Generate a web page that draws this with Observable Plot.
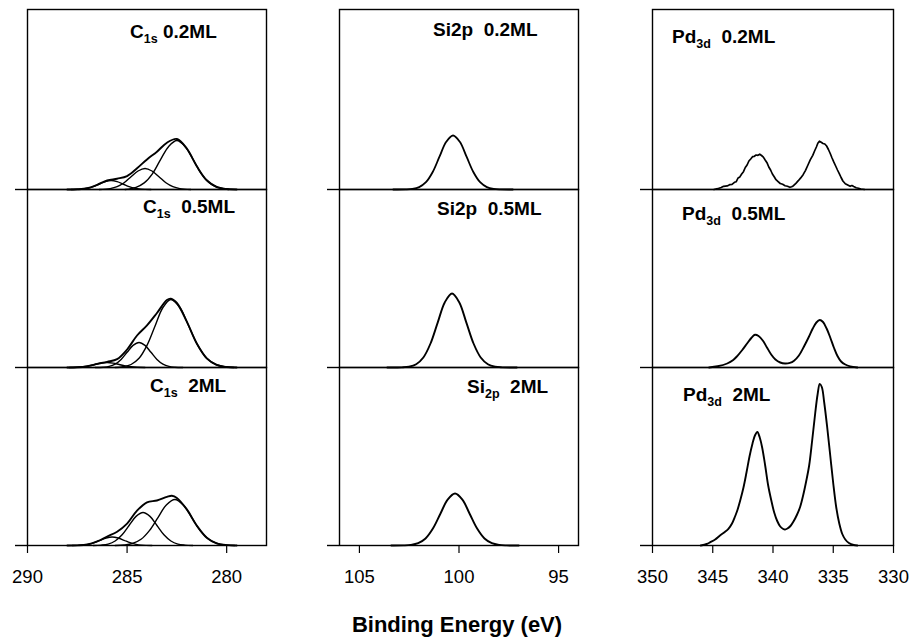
<!DOCTYPE html>
<html><head><meta charset="utf-8">
<script src="https://cdn.jsdelivr.net/npm/d3@7"></script>
<script src="https://cdn.jsdelivr.net/npm/@observablehq/plot@0.6"></script>
<style>
body{margin:0;background:#fff;font-family:"Liberation Sans",Arial,Helvetica,sans-serif}
#fig{position:relative;width:910px;height:638px;overflow:hidden;background:#fff}
.panel{position:absolute}
.lab{position:absolute;font-weight:bold;font-size:19px;line-height:19px;white-space:pre;color:#000}
.lab sub{font-size:12.5px;line-height:12px;vertical-align:baseline;position:relative;top:5px}
.title{position:absolute;left:2px;width:910px;text-align:center;font-weight:bold;font-size:22px;line-height:22px;color:#000}
</style></head><body><div id="fig"></div>
<script>
// ---------- data (binding energy eV, intensity a.u.) ----------
const rowNames = ["0.2ML", "0.5ML", "2ML"];
const c1sTicks = [290, 285, 280];
const si2pTicks = [105, 100, 95];
const pd3dTicks = [350, 345, 340, 335, 330];

// C1s 0.2 ML
const c1s02Envelope = [[288,0],[287.5,0.2],[287,1.2],[286.5,4.7],[286,9.0],[285.5,10.8],[285,13.4],[284.5,21.2],[284,30.1],[283.5,37.8],[283,46.8],[282.5,50.5],[282,40.9],[281.5,23.3],[281,9.2],[280.5,2.5],[280,0.5],[279.5,0]];
const c1s02Peak1 = [[285.1,0],[284.55,2.2],[284.14,6.6],[283.73,15.7],[283.32,29.9],[282.91,43.1],[282.5,49],[282.09,43.1],[281.68,29.9],[281.27,15.7],[280.86,6.6],[280.45,2.2],[279.9,0]];
const c1s02Peak2 = [[286.4,0],[285.85,0.9],[285.5,2.8],[285.15,6.7],[284.8,12.8],[284.45,18.5],[284.1,21],[283.75,18.5],[283.4,12.8],[283.05,6.7],[282.7,2.8],[282.35,0.9],[281.8,0]];
const c1s02Peak3 = [[287.8,0],[287.3,0.4],[287.0,1.2],[286.7,2.9],[286.4,5.5],[286.1,7.9],[285.8,9],[285.5,7.9],[285.2,5.5],[284.9,2.9],[284.6,1.2],[284.3,0.4],[283.8,0]];

// C1s 0.5 ML
const c1s05Envelope = [[288,0],[287.5,0.2],[287,1.3],[286.5,3.6],[286,5.7],[285.5,8.4],[285,18.0],[284.5,32.0],[284,42.1],[283.5,54.5],[283,67.5],[282.8,68.8],[282.5,64.5],[282,45.8],[281.5,24],[281,9.2],[280.5,2.6],[280,0.5],[279.5,0]];
const c1s05Peak1 = [[285.6,0],[285.2,0.75],[284.8,3.0],[284.4,9.2],[284.0,22.1],[283.6,41.2],[283.2,60],[282.8,68],[282.35,60],[281.9,41.2],[281.45,22.1],[281.0,9.2],[280.55,3.0],[280.1,0.75],[279.65,0]];
const c1s05Peak2 = [[286.6,0],[286.2,0.3],[285.9,1.1],[285.6,3.4],[285.3,8.1],[285.0,15.2],[284.7,22.1],[284.4,25],[284.1,22.1],[283.8,15.2],[283.5,8.1],[283.2,3.4],[282.9,1.1],[282.6,0.3],[282.2,0]];
const c1s05Peak3 = [[287.9,0],[287.5,0.2],[287.2,0.7],[286.9,1.6],[286.6,3.0],[286.3,4.4],[286.0,5],[285.7,4.4],[285.4,3.0],[285.1,1.6],[284.8,0.7],[284.5,0.2],[284.1,0]];

// C1s 2 ML
const c1s2Envelope = [[288,0],[287.5,0.15],[287,1.0],[286.5,4.1],[286,9.0],[285.5,13.8],[285,21.9],[284.5,34.9],[284,43.2],[283.5,45.0],[283,48.6],[282.75,49.8],[282.5,47.6],[282,36.1],[281.5,19.9],[281,7.8],[280.5,2.2],[280,0.4],[279.5,0]];
const c1s2Peak1 = [[285.6,0],[285.15,0.5],[284.73,2.0],[284.3,6.2],[283.88,14.9],[283.45,27.9],[283.03,40.6],[282.6,46],[282.18,40.6],[281.75,27.9],[281.33,14.9],[280.9,6.2],[280.48,2.0],[280.05,0.5],[279.6,0]];
const c1s2Peak2 = [[286.7,0],[286.3,0.37],[285.95,1.45],[285.6,4.5],[285.25,10.7],[284.9,20.0],[284.55,29.1],[284.2,33],[283.85,29.1],[283.5,20.0],[283.15,10.7],[282.8,4.5],[282.45,1.45],[282.1,0.37],[281.7,0]];
const c1s2Peak3 = [[287.75,0],[287.25,0.37],[286.95,1.15],[286.65,2.8],[286.35,5.2],[286.05,7.5],[285.75,8.5],[285.45,7.5],[285.15,5.2],[284.85,2.8],[284.55,1.15],[284.25,0.37],[283.75,0]];

// Si2p
const si2p02 = [[103.3,0],[102.68,0.1],[102.34,0.6],[102.0,2.4],[101.66,7.3],[101.32,17.5],[100.98,32.8],[100.64,47.7],[100.3,54],[99.96,47.7],[99.62,32.8],[99.28,17.5],[98.94,7.3],[98.6,2.4],[98.26,0.6],[97.92,0.1],[97.3,0]];
const si2p05 = [[103.6,0],[102.87,0.16],[102.51,0.82],[102.15,3.25],[101.79,10.0],[101.43,24.0],[101.07,44.9],[100.71,65.3],[100.35,74],[99.99,65.3],[99.63,44.9],[99.27,24.0],[98.91,10.0],[98.55,3.25],[98.19,0.82],[97.83,0.16],[97.1,0]];
const si2p2 = [[103.4,0],[102.79,0.11],[102.42,0.58],[102.05,2.3],[101.68,7.0],[101.31,16.9],[100.94,31.5],[100.57,45.9],[100.2,52],[99.83,45.9],[99.46,31.5],[99.09,16.9],[98.72,7.0],[98.35,2.3],[97.98,0.58],[97.61,0.11],[97.0,0]];

// Pd3d
const pd3d02 = [[344.9,0],[344.6,0.8],[344.3,2.0],[344.1,3.2],[343.8,3.6],[343.6,4.8],[343.4,5.2],[343.2,7.2],[343.05,7.8],[342.9,11.5],[342.75,12.6],[342.6,15.5],[342.45,17.8],[342.3,22],[342.15,24.5],[342.0,28.5],[341.85,30.5],[341.7,32.8],[341.55,33.2],[341.4,34.5],[341.25,34.2],[341.1,35.3],[340.95,34],[340.8,32.4],[340.65,29.5],[340.5,26.8],[340.35,22.5],[340.2,19.5],[340.05,15.5],[339.9,12.8],[339.75,9.8],[339.6,8.2],[339.4,6],[339.2,5.2],[339.0,3.8],[338.8,3.2],[338.6,2.2],[338.45,2.8],[338.3,3.8],[338.1,6.2],[337.9,8.8],[337.7,11.6],[337.5,14.8],[337.3,19.2],[337.1,24.5],[336.9,29.8],[336.7,34.2],[336.55,38.5],[336.4,42.5],[336.28,46.3],[336.15,48.3],[336.0,47.2],[335.85,46],[335.7,45.5],[335.55,43.5],[335.4,40],[335.25,36],[335.1,31.5],[334.95,27.3],[334.8,23.5],[334.65,19.5],[334.5,15.8],[334.35,12],[334.2,8.5],[334.0,5.8],[333.8,4.5],[333.6,3.2],[333.45,4.0],[333.3,3.0],[333.1,1.8],[332.9,1.2],[332.7,0.5],[332.4,0]];
const pd3d05 = [[345.3,0],[344.6,1.2],[343.8,4],[343.3,7.5],[342.95,11.7],[342.55,17.5],[342.15,24],[341.8,29.5],[341.5,32.7],[341.2,31.5],[340.85,27],[340.5,20],[340.15,13],[339.8,8],[339.4,5],[339.0,4],[338.6,4.6],[338.25,6.8],[337.85,12],[337.45,20.5],[337.05,30],[336.7,39],[336.4,45],[336.12,47.5],[335.85,45.5],[335.55,39],[335.25,30],[334.95,20],[334.65,11.5],[334.35,6],[334.0,3],[333.6,1.2],[333.0,0]];
const pd3d2 = [[346.0,0],[345.5,1.5],[345.2,3.3],[344.8,6],[344.4,10],[344.0,13.5],[343.7,16.7],[343.4,22],[343.15,29],[342.95,35.5],[342.7,46],[342.45,58],[342.2,73],[341.95,89],[341.7,102],[341.5,110],[341.3,113.5],[341.1,108],[340.9,98],[340.65,80],[340.4,60],[340.15,45.5],[339.9,33],[339.65,24.5],[339.4,19],[339.15,16.5],[339.0,16],[338.8,17],[338.55,19.5],[338.3,24],[338.0,31],[337.75,38.5],[337.5,50],[337.25,64],[337.0,80],[336.75,105],[336.5,132],[336.3,151],[336.12,161.5],[335.95,158.5],[335.75,143],[335.5,118],[335.25,90],[335.0,62],[334.75,38],[334.5,22],[334.25,11.5],[334.0,6],[333.7,2.5],[333.3,0.5],[333.0,0]];

// ---------- layout ----------
const FONT = '"Liberation Sans", Arial, Helvetica, sans-serif';
const rowTop = [9, 189, 367];
const rowH = [180, 178, 178];
const ML = 14, MR = 4, MT = 4, MB = 4, MB_LAST = 64;

const columns = [
  {domain: [290, 278], ticks: c1sTicks, frameLeft: 27, frameRight: 266,
   rows: [
     [{d: c1s02Envelope, w: 1.9}, {d: c1s02Peak1, w: 1.4}, {d: c1s02Peak2, w: 1.4}, {d: c1s02Peak3, w: 1.4}],
     [{d: c1s05Envelope, w: 1.9}, {d: c1s05Peak1, w: 1.4}, {d: c1s05Peak2, w: 1.4}, {d: c1s05Peak3, w: 1.4}],
     [{d: c1s2Envelope, w: 1.9}, {d: c1s2Peak1, w: 1.4}, {d: c1s2Peak2, w: 1.4}, {d: c1s2Peak3, w: 1.4}]
   ]},
  {domain: [106, 94], ticks: si2pTicks, frameLeft: 339, frameRight: 578,
   rows: [[{d: si2p02, w: 1.8}], [{d: si2p05, w: 1.9}], [{d: si2p2, w: 1.9}]]},
  {domain: [350, 330], ticks: pd3dTicks, frameLeft: 652, frameRight: 893,
   rows: [[{d: pd3d02, w: 1.7, curve: "linear"}], [{d: pd3d05, w: 1.9}], [{d: pd3d2, w: 1.9}]]}
];

const fig = document.getElementById("fig");

columns.forEach(col => {
  col.rows.forEach((curves, r) => {
    const last = r === 2;
    const mb = last ? MB_LAST : MB;
    const innerW = col.frameRight - col.frameLeft;
    const marks = [
      Plot.frame({stroke: "black", strokeWidth: 1.4}),
      Plot.axisY({ticks: [0], tickSize: 12, tickFormat: () => "", label: null, strokeWidth: 1.4})
    ];
    if (last) {
      marks.push(Plot.axisX({ticks: col.ticks, tickSize: 8, tickPadding: 16, label: null, strokeWidth: 1.2, fontSize: 18.5}));
    }
    curves.forEach(c => {
      marks.push(Plot.line(c.d, {x: d => d[0], y: d => d[1], stroke: "black", strokeWidth: c.w, curve: c.curve || "catmull-rom"}));
    });
    const p = Plot.plot({
      width: innerW + ML + MR,
      height: rowH[r] + MT + mb,
      marginLeft: ML, marginRight: MR, marginTop: MT, marginBottom: mb,
      style: {background: "transparent", overflow: "visible", fontFamily: FONT, fontSize: "18.5px", color: "black"},
      x: last ? {domain: col.domain} : {domain: col.domain, axis: null},
      y: {domain: [0, rowH[r]]},
      marks
    });
    p.classList.add("panel");
    p.style.left = (col.frameLeft - ML) + "px";
    p.style.top = (rowTop[r] - MT) + "px";
    p.style.maxWidth = "none";
    fig.appendChild(p);
  });
});

// ---------- panel labels ----------
const labels = [
  {html: 'C<sub>1s</sub> 0.2ML', x: 130, base: 38},
  {html: 'C<sub>1s</sub>  0.5ML', x: 143, base: 213},
  {html: 'C<sub>1s</sub>  2ML', x: 150, base: 392},
  {html: 'Si2p  0.2ML', x: 433, base: 36},
  {html: 'Si2p  0.5ML', x: 437, base: 215},
  {html: 'Si<sub>2p</sub>  2ML', x: 467, base: 393},
  {html: 'Pd<sub>3d</sub>  0.2ML', x: 672, base: 43},
  {html: 'Pd<sub>3d</sub>  0.5ML', x: 682, base: 220},
  {html: 'Pd<sub>3d</sub>  2ML', x: 683, base: 401}
];
labels.forEach(l => {
  const d = document.createElement("div");
  d.className = "lab";
  d.innerHTML = l.html;
  d.style.left = l.x + "px";
  d.style.top = (l.base - 16.1) + "px";
  fig.appendChild(d);
});
const t = document.createElement("div");
t.className = "title";
t.textContent = "Binding Energy (eV)";
t.style.top = (633 - 18.6) + "px";
fig.appendChild(t);
</script></body></html>
